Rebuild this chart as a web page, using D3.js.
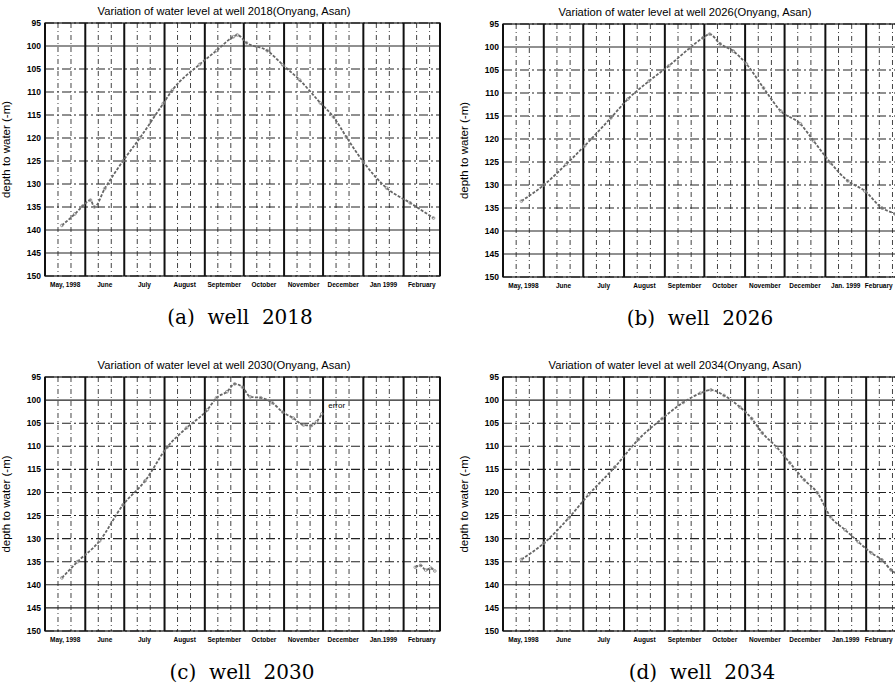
<!DOCTYPE html>
<html lang="en">
<head>
<meta charset="UTF-8">
<title>Variation of water level</title>
<script src="https://cdnjs.cloudflare.com/ajax/libs/d3/7.8.5/d3.min.js"></script>
<style>
    body { margin: 0; background: #fff; }
    .title { font-family: "Liberation Sans", Arial, sans-serif; font-size: 11.2px; }
    .tick-y { font-family: "Liberation Sans", Arial, sans-serif; font-size: 8.5px; font-weight: bold; }
    .tick-x { font-family: "Liberation Sans", Arial, sans-serif; font-size: 6.5px; font-weight: bold; }
    .ylab { font-family: "Liberation Sans", Arial, sans-serif; font-size: 11.5px; }
    .caption { font-family: "DejaVu Serif", serif; font-size: 20px; }
</style>
</head>
<body>
<svg id="chart" width="895" height="687"></svg>
<script>
// depth to water (m)
var well2018 = [
    ["1998-05-14", 139], ["1998-05-24", 136.5], ["1998-05-30", 134.8], ["1998-06-05", 133.5],
    ["1998-06-08", 135], ["1998-06-16", 131], ["1998-06-30", 125], ["1998-07-13", 120],
    ["1998-07-31", 112.5], ["1998-08-07", 109.6], ["1998-08-28", 104], ["1998-09-10", 101],
    ["1998-09-23", 98], ["1998-09-26", 97.6], ["1998-10-03", 99.3], ["1998-10-19", 101],
    ["1998-10-31", 104.1], ["1998-11-13", 107.4], ["1998-11-29", 112.4], ["1998-12-09", 115.4],
    ["1998-12-19", 119.8], ["1999-01-01", 125.2], ["1999-01-19", 130.9], ["1999-02-06", 134.1],
    ["1999-02-24", 137.4]
];
var well2026 = [
    ["1998-05-15", 133.5], ["1998-06-01", 130], ["1998-06-18", 125.5], ["1998-07-02", 121.5],
    ["1998-07-22", 115.4], ["1998-08-04", 111.3], ["1998-08-20", 107.4], ["1998-09-04", 104.1],
    ["1998-09-20", 100.2], ["1998-09-30", 98], ["1998-10-05", 97.2], ["1998-10-13", 99.3],
    ["1998-10-23", 100.9], ["1998-11-02", 103.7], ["1998-11-15", 108.9], ["1998-11-28", 113.9],
    ["1998-12-13", 116.7], ["1998-12-23", 120.4], ["1999-01-05", 125.2], ["1999-01-18", 129.1],
    ["1999-01-31", 131.3], ["1999-02-13", 135], ["1999-02-23", 136.3], ["1999-03-02", 137.5]
];
var well2030 = [
    ["1998-05-14", 138.5], ["1998-05-26", 135], ["1998-06-12", 130.5], ["1998-06-30", 122.7],
    ["1998-07-17", 117.5], ["1998-08-03", 110.2], ["1998-08-18", 106], ["1998-09-03", 102.1],
    ["1998-09-10", 99.5], ["1998-09-18", 98.2], ["1998-09-24", 96.5], ["1998-09-30", 97.2],
    ["1998-10-06", 99.3], ["1998-10-14", 99.5], ["1998-10-23", 100.6], ["1998-10-31", 102.6],
    ["1998-11-08", 103.9], ["1998-11-16", 105.4], ["1998-11-22", 105.5], ["1998-11-26", 104.7],
    ["1998-11-30", 103]
];
var well2030Late = [
    ["1999-02-10", 136.2], ["1999-02-14", 135.8], ["1999-02-18", 136.8], ["1999-02-22", 136.4],
    ["1999-02-25", 137]
];
var well2034 = [
    ["1998-05-15", 134.5], ["1998-06-01", 131], ["1998-06-20", 125.5], ["1998-07-05", 120.5],
    ["1998-07-25", 114.5], ["1998-08-12", 108.5], ["1998-08-30", 104], ["1998-09-15", 100.5],
    ["1998-09-28", 98.5], ["1998-10-06", 97.8], ["1998-10-16", 99], ["1998-10-28", 101.5],
    ["1998-11-06", 104], ["1998-11-14", 107.1], ["1998-11-25", 110.2], ["1998-12-05", 113.6],
    ["1998-12-16", 117.3], ["1998-12-26", 120.1], ["1999-01-05", 125.3], ["1999-01-16", 128.1],
    ["1999-01-26", 130.7], ["1999-02-05", 133.1], ["1999-02-13", 134.6], ["1999-02-20", 136.8],
    ["1999-02-28", 138]
];

var yTicks = [95, 100, 105, 110, 115, 120, 125, 130, 135, 140, 145, 150];
var monthsA = ["May, 1998", "June", "July", "August", "September", "October",
    "November", "December", "Jan 1999", "February"];
var monthsB = ["May, 1998", "June", "July", "August", "September", "October",
    "November", "December", "Jan. 1999", "February"];
var monthsC = ["May, 1998", "June", "July", "August", "September", "October",
    "November", "December", "Jan.1999", "February"];

var svg = d3.select("#chart");
var svgWidth = +svg.attr("width");
var parse = d3.utcParse("%Y-%m-%d");

function drawPanel(p) {
    var g = svg.append("g");
    var x = d3.scaleUtc()
        .domain([Date.UTC(1998, 4, 1), Date.UTC(1999, 2, 1)])
        .range([p.left, p.right]);
    var y = d3.scaleLinear().domain([95, 150]).range([p.top, p.bottom]);

    var monthStarts = d3.utcMonth.range(Date.UTC(1998, 4, 1), Date.UTC(1999, 2, 2));
    var minor = [];
    monthStarts.slice(0, -1).forEach(function (m) {
        minor.push(d3.utcDay.offset(m, 10), d3.utcDay.offset(m, 20));
    });

    // minor vertical grid
    g.selectAll(".vminor").data(minor).enter().append("line")
        .attr("x1", function (d) { return x(d); }).attr("x2", function (d) { return x(d); })
        .attr("y1", p.top).attr("y2", p.bottom)
        .attr("stroke", "#444").attr("stroke-width", 1)
        .attr("stroke-dasharray", "5,3,1,3");

    // horizontal grid
    g.selectAll(".hgrid").data(yTicks).enter().append("line")
        .attr("x1", p.left).attr("x2", p.right)
        .attr("y1", function (d) { return y(d); }).attr("y2", function (d) { return y(d); })
        .attr("stroke", "#222").attr("stroke-width", 1.1)
        .attr("stroke-dasharray", function (d) { return (d === 100 || d === 140 || d === 145) ? null : "9,3,2,3"; });

    // month lines
    g.selectAll(".vmajor").data(monthStarts).enter().append("line")
        .attr("x1", function (d) { return x(d); }).attr("x2", function (d) { return x(d); })
        .attr("y1", p.top).attr("y2", p.bottom)
        .attr("stroke", "#111").attr("stroke-width", 2);

    g.append("rect")
        .attr("x", p.left).attr("y", p.top)
        .attr("width", p.right - p.left).attr("height", p.bottom - p.top)
        .attr("fill", "none").attr("stroke", "#111").attr("stroke-width", 1.2);

    // series
    var line = d3.line()
        .x(function (d) { return x(parse(d[0])); })
        .y(function (d) { return y(d[1]); })
        .curve(d3.curveMonotoneX);
    p.series.forEach(function (s) {
        g.append("path").datum(s)
            .attr("d", line)
            .attr("fill", "none").attr("stroke", "#666").attr("stroke-width", 1.8)
            .attr("stroke-dasharray", "3,1.5");
        g.selectAll(null).data(s).enter().append("circle")
            .attr("cx", function (d) { return x(parse(d[0])); })
            .attr("cy", function (d) { return y(d[1]); })
            .attr("r", 1.4).attr("fill", "none").attr("stroke", "#888").attr("stroke-width", 0.8);
    });

    // y ticks
    g.selectAll(".ty").data(yTicks).enter().append("text")
        .attr("class", "tick-y")
        .attr("x", p.left - 4).attr("y", function (d) { return y(d) + 3; })
        .attr("text-anchor", "end").text(function (d) { return d; });

    // month labels, kept inside the page
    g.selectAll(".tx").data(p.months).enter().append("text")
        .attr("class", "tick-x")
        .attr("x", function (d, i) { return (x(monthStarts[i]) + x(monthStarts[i + 1])) / 2; })
        .attr("y", p.bottom + 11)
        .attr("text-anchor", "middle").text(function (d) { return d; })
        .each(function () {
            var bb = this.getBBox();
            var over = bb.x + bb.width - (svgWidth - 2);
            if (over > 0) d3.select(this).attr("x", +d3.select(this).attr("x") - over);
        });

    g.append("text").attr("class", "title")
        .attr("x", p.titleX).attr("y", p.top - 8)
        .attr("text-anchor", "middle").text(p.title);

    g.append("text").attr("class", "ylab")
        .attr("transform", "translate(" + (p.left - 35) + "," + ((p.top + p.bottom) / 2) + ") rotate(-90)")
        .attr("text-anchor", "middle").text("depth to water (-m)");

    g.append("text").attr("class", "caption")
        .attr("x", p.capX).attr("y", p.bottom + 48)
        .attr("text-anchor", "middle").attr("xml:space", "preserve").text(p.caption);

    if (p.note) {
        g.append("text").attr("class", "tick-x")
            .attr("x", x(parse(p.note[0]))).attr("y", y(p.note[1]))
            .style("font-size", "8px").style("font-weight", "normal")
            .text(p.note[2]);
    }
}

drawPanel({left: 45, right: 440, top: 23, bottom: 276, series: [well2018], months: monthsA,
    title: "Variation of water level at well 2018(Onyang, Asan)", titleX: 224,
    caption: "(a)  well  2018", capX: 240});
drawPanel({left: 503, right: 903, top: 24, bottom: 277, series: [well2026], months: monthsB,
    title: "Variation of water level at well 2026(Onyang, Asan)", titleX: 685,
    caption: "(b)  well  2026", capX: 700});
drawPanel({left: 45, right: 440, top: 377, bottom: 631, series: [well2030, well2030Late], months: monthsC,
    title: "Variation of water level at well 2030(Onyang, Asan)", titleX: 224,
    caption: "(c)  well  2030", capX: 242, note: ["1998-12-05", 101.8, "error"]});
drawPanel({left: 503, right: 903, top: 377, bottom: 631, series: [well2034], months: monthsC,
    title: "Variation of water level at well 2034(Onyang, Asan)", titleX: 675,
    caption: "(d)  well  2034", capX: 702});
</script>
</body>
</html>
